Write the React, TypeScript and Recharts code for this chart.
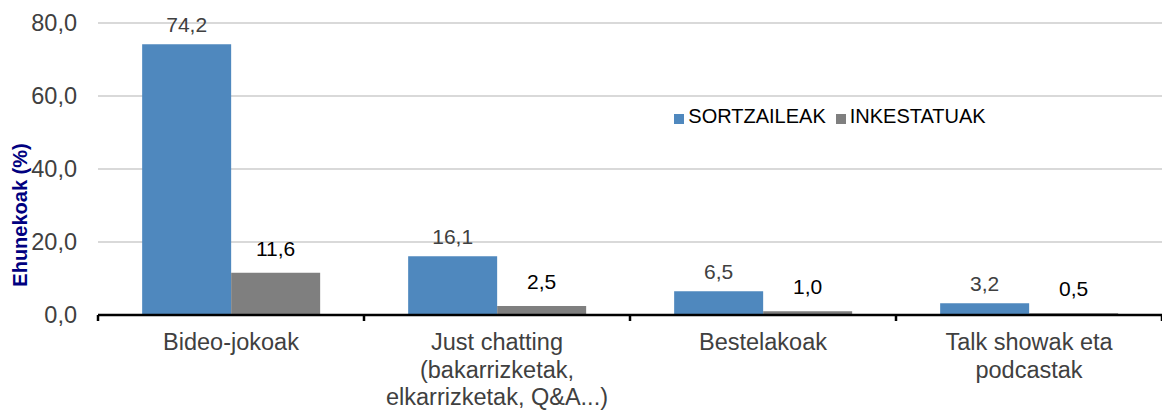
import { BarChart, Bar, XAxis, YAxis, CartesianGrid, Legend, LabelList } from "recharts";

const CATEGORIES = [
    "Bideo-jokoak",
    "Just chatting (bakarrizketak, elkarrizketak, Q&A...)",
    "Bestelakoak",
    "Talk showak eta podcastak",
];

// how each category label wraps under the axis
const CATEGORY_LINES: string[][] = [
    ["Bideo-jokoak"],
    ["Just chatting", "(bakarrizketak,", "elkarrizketak, Q&A...)"],
    ["Bestelakoak"],
    ["Talk showak eta", "podcastak"],
];

const SORTZAILEAK = [74.2, 16.1, 6.5, 3.2];
const INKESTATUAK = [11.6, 2.5, 1.0, 0.5];

const Y_TICKS = [0, 20, 40, 60, 80];

const SERIES_ORDER = ["sortzaileak", "inkestatuak"];

const FONT = "'Liberation Sans', Arial, sans-serif";

const data = CATEGORIES.map((name, i) => ({
    name,
    sortzaileak: SORTZAILEAK[i],
    inkestatuak: INKESTATUAK[i],
}));

const fmt = (v: any) => Number(v).toFixed(1).replace(".", ",");

function CategoryTick(props: any) {
    const { x, y, payload } = props;
    const idx = CATEGORIES.indexOf(payload.value);
    const lines = CATEGORY_LINES[idx] || [payload.value];
    const half = payload.offset || 0;
    const axisY = y - 8;
    return (
        <g>
            <line x1={x - half} x2={x - half} y1={axisY} y2={axisY + 6} stroke="#000" strokeWidth={2.5} />
            {idx === CATEGORIES.length - 1 && (
                <line x1={x + half} x2={x + half} y1={axisY} y2={axisY + 6} stroke="#000" strokeWidth={2.5} />
            )}
            <text x={x} y={y} textAnchor="middle" fill="#404040" fontSize={23.5} fontFamily={FONT}>
                {lines.map((l, i) => (
                    <tspan key={i} x={x} dy={i === 0 ? 27 : 27.5}>{l}</tspan>
                ))}
            </text>
        </g>
    );
}

function YTitle() {
    return (
        <text
            x={27}
            y={215}
            transform="rotate(-90, 27, 215)"
            textAnchor="middle"
            fill="#000080"
            fontSize={20}
            fontWeight="bold"
            fontFamily={FONT}
        >
            Ehunekoak (%)
        </text>
    );
}

export default function App() {
    return (
        <div style={{ position: "absolute", left: 0, top: 0, width: 1162, height: 410, background: "#fff" }}>
            <BarChart
                width={1162}
                height={410}
                data={data}
                margin={{ top: 23, right: 0, bottom: 0, left: 0 }}
                barCategoryGap="16.6%"
                barGap={0}
            >
                <CartesianGrid vertical={false} stroke="#d9d9d9" strokeWidth={2} />
                <XAxis
                    dataKey="name"
                    axisLine={{ stroke: "#000", strokeWidth: 2.5 }}
                    tickLine={false}
                    tick={<CategoryTick />}
                    interval={0}
                    height={95}
                />
                <YAxis
                    domain={[0, 80]}
                    ticks={Y_TICKS}
                    tickFormatter={fmt}
                    axisLine={false}
                    tickLine={false}
                    width={98}
                    tickSize={0}
                    tickMargin={21}
                    tick={{ fill: "#404040", fontSize: 23.5, fontFamily: FONT }}
                    label={<YTitle />}
                />
                <Legend
                    layout="horizontal"
                    verticalAlign="middle"
                    align="center"
                    iconType="square"
                    iconSize={10}
                    itemSorter={(item: any) => SERIES_ORDER.indexOf(item.dataKey)}
                    formatter={(value: any) => <span style={{ color: "#000", fontSize: 20, fontFamily: FONT }}>{value}</span>}
                    wrapperStyle={{ top: 103, left: 655, width: 360, textAlign: "left", lineHeight: "26px" }}
                />
                <Bar dataKey="sortzaileak" name="SORTZAILEAK" fill="#4f88be" isAnimationActive={false}>
                    <LabelList
                        dataKey="sortzaileak"
                        position="top"
                        offset={12}
                        formatter={fmt}
                        fill="#404040"
                        fontSize={21}
                        fontFamily={FONT}
                    />
                </Bar>
                <Bar dataKey="inkestatuak" name="INKESTATUAK" fill="#7f7f7f" isAnimationActive={false}>
                    <LabelList
                        dataKey="inkestatuak"
                        position="top"
                        offset={17}
                        formatter={fmt}
                        fill="#000"
                        fontSize={21}
                        fontFamily={FONT}
                    />
                </Bar>
            </BarChart>
        </div>
    );
}
